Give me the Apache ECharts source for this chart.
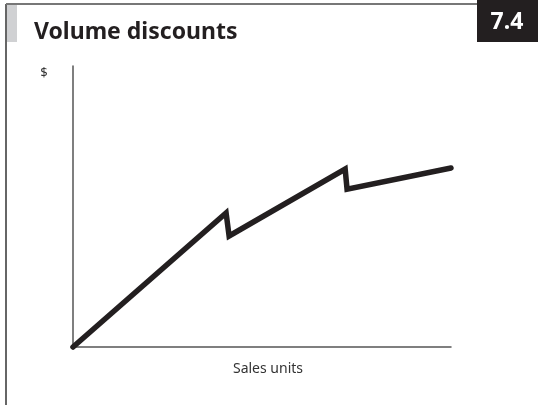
<!DOCTYPE html>
<html>
<head>
<meta charset="utf-8">
<script src="https://cdn.jsdelivr.net/npm/echarts@6/dist/echarts.min.js"></script>
<style>html,body{margin:0;padding:0;background:#fff}#c{width:538px;height:405px}</style>
</head>
<body>
<div id="c"></div>
<script>
// Data (abstract units: x = sales units, y = $)
const salesUnits = [0, 40.5, 41.3, 72.0, 72.5, 100];
const dollars    = [0, 47.7, 39.5, 63.3, 56.2, 63.7];
const titleText = 'Volume discounts';
const figureNo = '7.4';
const xName = 'Sales units';
const yName = '$';

const chart = echarts.init(document.getElementById('c'), null, {renderer: 'canvas'});
const font = '"Noto Sans", sans-serif';
chart.setOption({
  animation: false,
  backgroundColor: '#fff',
  grid: {left: 73, top: 66, right: 87, bottom: 58},
  xAxis: {
    type: 'value', min: 0, max: 100,
    axisLine: {show: true, onZero: false, lineStyle: {color: '#555', width: 1.5}},
    axisTick: {show: false}, axisLabel: {show: false}, splitLine: {show: false},
    name: xName, nameLocation: 'middle', nameGap: 15,
    nameTextStyle: {color: '#333', fontSize: 14, fontFamily: font, padding: [0, 0, 0, 12]}
  },
  yAxis: {
    type: 'value', min: 0, max: 100,
    axisLine: {show: true, onZero: false, lineStyle: {color: '#555', width: 1.5}},
    axisTick: {show: false}, axisLabel: {show: false}, splitLine: {show: false}
  },
  series: [{
    type: 'line',
    data: salesUnits.map((x, i) => [x, dollars[i]]),
    symbol: 'none',
    clip: false,
    lineStyle: {color: '#231f20', width: 5.5, cap: 'round', join: 'miter'}
  }],
  graphic: [
    {type: 'line', shape: {x1: 6, y1: 4, x2: 6, y2: 405}, style: {stroke: '#333', lineWidth: 1.5}},
    {type: 'line', shape: {x1: 6, y1: 4, x2: 478, y2: 4}, style: {stroke: '#777', lineWidth: 2}},
    {type: 'rect', shape: {x: 7, y: 5, width: 10, height: 37}, style: {fill: '#d0d1d3'}},
    {type: 'rect', shape: {x: 477, y: 0, width: 61, height: 42}, style: {fill: '#231f20'}},
    {type: 'text', x: 507, y: 22, style: {text: figureNo, fill: '#fff', font: 'bold 23px ' + font, align: 'center', verticalAlign: 'middle'}},
    {type: 'text', x: 34, y: 32, style: {text: titleText, fill: '#231f20', font: 'bold 23px ' + font, verticalAlign: 'middle'}},
    {type: 'text', x: 44, y: 73, style: {text: yName, fill: '#333', font: '13px ' + font, align: 'center', verticalAlign: 'middle'}}
  ]
});
</script>
</body>
</html>
